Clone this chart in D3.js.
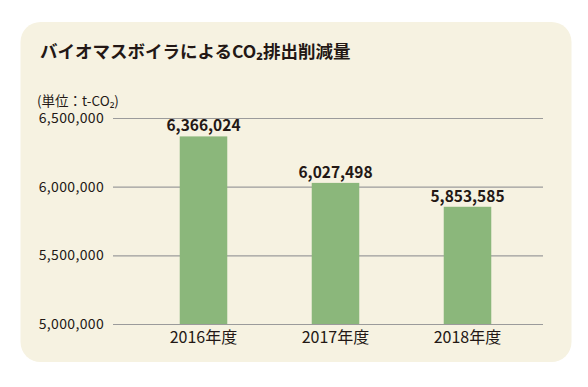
<!DOCTYPE html>
<html><head><meta charset="utf-8">
<script src="https://cdn.jsdelivr.net/npm/d3@7"></script>
<style>body{margin:0;background:#fff}svg{display:block}text{font-family:"Noto Sans CJK JP","Noto Sans",sans-serif;fill:#231815}</style>
</head><body><svg id="c" width="588" height="387"></svg>
<script>
const categories = ["2016年度", "2017年度", "2018年度"];
const values = [6366024, 6027498, 5853585];
const yTicks = [5000000, 5500000, 6000000, 6500000];
const title = "バイオマスボイラによるCO₂排出削減量";
const unitLabel = "(単位：t-CO₂)";

const svg = d3.select("#c");
svg.append("rect").attr("x", 20.5).attr("y", 22).attr("width", 551).attr("height", 340)
  .attr("rx", 20).attr("fill", "#f6f2e1");

svg.append("text").attr("x", 40).attr("y", 58).attr("font-size", 17.5).attr("font-weight", "bold")
  .text(title);

const x = d3.scaleBand().domain(categories).range([137.5, 533.5]).paddingInner(0.64).paddingOuter(0.32);
const y = d3.scaleLinear().domain([5000000, 6500000]).range([324, 118]);

const fmt = d3.format(",");
const grid = svg.append("g");
grid.selectAll("line").data(yTicks).join("line")
  .attr("x1", 113).attr("x2", 543)
  .attr("y1", d => y(d) + 0.5).attr("y2", d => y(d) + 0.5)
  .attr("stroke", "#9b9b9b").attr("stroke-width", 1.2);
grid.selectAll("text").data(yTicks).join("text")
  .attr("x", 104).attr("y", d => y(d)).attr("dy", "0.36em").attr("text-anchor", "end")
  .attr("font-size", 14).attr("letter-spacing", 0.35).text(d => fmt(d));

svg.append("text").attr("x", 37).attr("y", 105.5).attr("font-size", 13.5).text(unitLabel);

svg.selectAll("rect.bar").data(values).join("rect").attr("class", "bar")
  .attr("x", (d, i) => x(categories[i])).attr("width", x.bandwidth())
  .attr("y", d => y(d)).attr("height", d => y(5000000) - y(d))
  .attr("fill", "#8bb77b");

svg.selectAll("text.val").data(values).join("text").attr("class", "val")
  .attr("x", (d, i) => x(categories[i]) + x.bandwidth() / 2).attr("y", d => y(d) - 5)
  .attr("text-anchor", "middle").attr("font-size", 15.5).attr("font-weight", "bold")
  .text(d => fmt(d));

svg.selectAll("text.cat").data(categories).join("text").attr("class", "cat")
  .attr("x", d => x(d) + x.bandwidth() / 2).attr("y", 343)
  .attr("text-anchor", "middle").attr("font-size", 16).text(d => d);
</script></body></html>
